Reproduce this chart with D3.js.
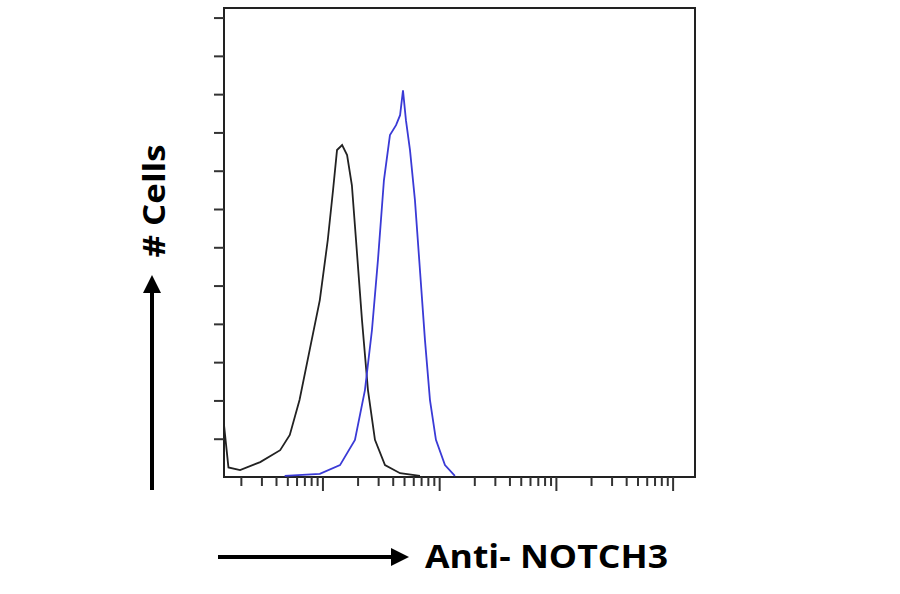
<!DOCTYPE html><html><head><meta charset="utf-8">
<script src="https://cdn.jsdelivr.net/npm/d3@7"></script>
<style>body{margin:0;background:#fff}</style></head><body><svg id="c" width="900" height="594"></svg>
<script>
const isoX=[1.42,1.55,1.95,2.9,4.3,5.2,6.3,7.7,9.4,11.0,12.2,13.2,14.6,16.1,17.7,19.2,21.6,24.3,27.9,34,45.8,67.8];
const isoY=[1.36,0.25,0.18,0.39,0.70,1.10,2.01,3.32,4.62,6.19,7.49,8.54,8.67,8.41,7.62,6.19,4.10,2.27,0.97,0.31,0.10,0.03];
const notchX=[4.7,9.4,14.0,18.8,22.9,26.3,29.6,33.3,37.5,42.3,45.8,48.5,51.4,55.7,61.4,67.8,74.8,82.6,92.9,111,135];
const notchY=[0.03,0.08,0.31,0.97,2.27,3.84,5.67,7.75,8.93,9.19,9.45,10.1,9.32,8.54,7.23,5.40,3.58,2.01,0.97,0.31,0.03];
const yTicks=d3.range(1,13);
const xDomain=[1.42,15400], yDomain=[0,12.25];
const svg=d3.select("#c");
const L=224,R=695,T=8,B=477;
const x=d3.scaleLog().domain(xDomain).range([L,R]);
const y=d3.scaleLinear().domain(yDomain).range([B,T]);
svg.append("rect").attr("x",L).attr("y",T).attr("width",R-L).attr("height",B-T).attr("fill","none").attr("stroke","#222").attr("stroke-width",2);
svg.append("g").attr("transform",`translate(${L},0)`).call(d3.axisLeft(y).tickValues(yTicks).tickSize(10).tickFormat(""))
 .call(g=>{g.select(".domain").remove();g.selectAll("line").attr("stroke","#333").attr("stroke-width",2);});
const xt=[];for(let e=0;e<5;e++)for(let m=1;m<10;m++){const v=m*Math.pow(10,e);if(v>=xDomain[0]&&v<=xDomain[1])xt.push(v);}
svg.append("g").attr("transform",`translate(0,${B})`).selectAll("line").data(xt).join("line")
 .attr("x1",d=>x(d)).attr("x2",d=>x(d)).attr("y1",0).attr("y2",d=>(Math.log10(d)%1===0)?14:9).attr("stroke","#333").attr("stroke-width",2);
const line=d3.line().x(d=>x(d[0])).y(d=>y(d[1])).curve(d3.curveLinear);
svg.append("path").attr("d",line(d3.zip(isoX,isoY))).attr("fill","none").attr("stroke","#222").attr("stroke-width",1.8);
svg.append("path").attr("d",line(d3.zip(notchX,notchY))).attr("fill","none").attr("stroke","#3a3ad6").attr("stroke-width",1.8);
const defs=svg.append("defs");
defs.append("marker").attr("id","ah").attr("viewBox","0 0 10 10").attr("refX",5).attr("refY",5).attr("markerWidth",4.5).attr("markerHeight",4.5).attr("orient","auto")
 .append("path").attr("d","M0,0L10,5L0,10z").attr("fill","#000");
svg.append("line").attr("x1",152).attr("y1",490).attr("x2",152).attr("y2",284).attr("stroke","#000").attr("stroke-width",4).attr("marker-end","url(#ah)");
svg.append("line").attr("x1",218).attr("y1",557).attr("x2",400).attr("y2",557).attr("stroke","#000").attr("stroke-width",4).attr("marker-end","url(#ah)");
svg.append("text").attr("x",425).attr("y",568).attr("font-family","Open Sans, Liberation Sans, sans-serif").attr("font-weight","bold").attr("font-size",32).attr("textLength",243).attr("lengthAdjust","spacingAndGlyphs").text("Anti- NOTCH3");
svg.append("text").attr("transform","translate(165,201) rotate(-90)").attr("text-anchor","middle").attr("font-family","Open Sans, Liberation Sans, sans-serif").attr("font-weight","bold").attr("font-size",30).attr("textLength",113).attr("lengthAdjust","spacingAndGlyphs").text("# Cells");
</script></body></html>
